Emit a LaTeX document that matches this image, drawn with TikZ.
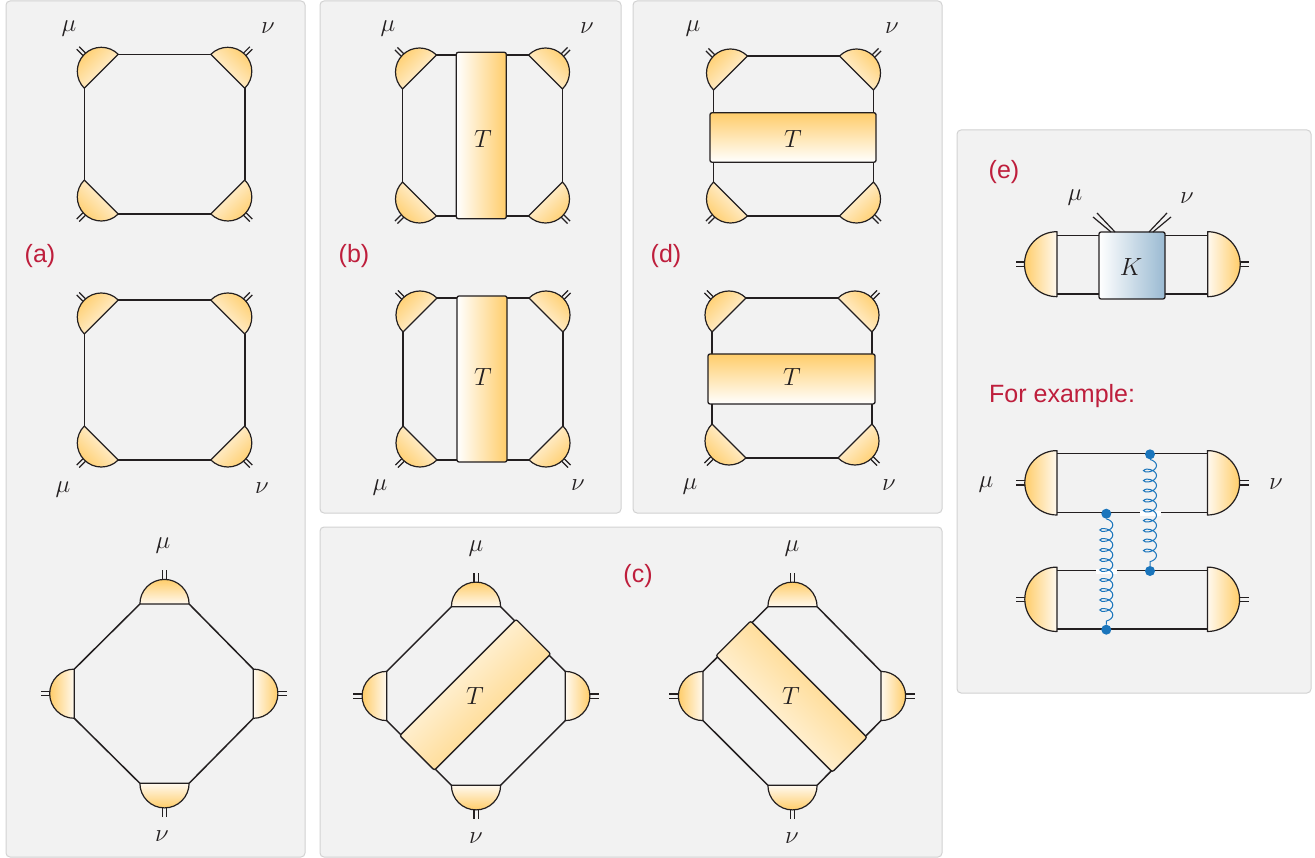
\documentclass[tikz,border=0pt]{standalone}
\usepackage{fontspec}
\setmainfont{Liberation Sans}
\usetikzlibrary{decorations.pathmorphing}
\definecolor{panelfill}{HTML}{F2F2F2}
\definecolor{panelline}{HTML}{D2D2D2}
\definecolor{ink}{HTML}{231F20}
\definecolor{amber}{HTML}{FFCD6A}
\definecolor{cream}{HTML}{FFF9EF}
\definecolor{steel}{HTML}{9ABAD2}
\definecolor{tagred}{HTML}{BE1E3C}
\definecolor{gluon}{HTML}{1A75BC}
\tikzset{
  panel/.style={draw=panelline,fill=panelfill,line width=1pt,rounded corners=4pt},
  wire/.style={draw=ink,line width=1.5pt},
  stub/.style={draw=ink,line width=1.2pt},
  blobedge/.style={draw=ink,line width=1.2pt,line join=round},
  tboxlook/.style={draw=ink,line width=1.3pt,rectangle,rounded corners=2pt,inner sep=0pt,outer sep=0pt},
  mathlabel/.style={inner sep=0pt,text=ink,font=\fontsize{23}{23}\selectfont},
  tag/.style={inner sep=0pt,text=tagred,font=\fontsize{25}{25}\selectfont},
  coilline/.style={draw=gluon,line width=1pt,decorate,decoration={coil,aspect=0.55,segment length=10pt,amplitude=6.5pt}},
  vertexdot/.style={circle,fill=gluon,inner sep=0pt,minimum size=10pt},
  gapmark/.style={fill=white,inner sep=0pt,minimum width=21pt,minimum height=5pt}
}
% name, x, y, rotation, radius, stub gap
\newcommand\blob[6]{%
  \begin{scope}[shift={(#2,#3)},rotate=#4]
    \coordinate (#1-a) at (-#5,0);
    \coordinate (#1-b) at (#5,0);
    \draw[stub] (-#6/2,-#5) -- (-#6/2,-#5-9);
    \draw[stub] (#6/2,-#5) -- (#6/2,-#5-9);
    \path[blobedge,shading=axis,bottom color=cream,top color=amber,shading angle=#4]
      (-#5,0) arc[start angle=180,end angle=0,radius=#5pt] -- cycle;
  \end{scope}}
% prefix, xleft, xright, ytop, ybottom
\newcommand\squarering[5]{%
  \blob{#1tl}{#2}{#4}{45}{24}{3.5}
  \blob{#1tr}{#3}{#4}{-45}{24}{3.5}
  \blob{#1br}{#3}{#5}{-135}{24}{3.5}
  \blob{#1bl}{#2}{#5}{135}{24}{3.5}
  \draw[wire] (#1tl-b) -- (#1tr-a) (#1tr-b) -- (#1br-a) (#1br-b) -- (#1bl-a) (#1bl-b) -- (#1tl-a);}
% prefix, xmid, xleftchord, xrightchord, ytop, ybottom, ymid
\newcommand\diamondring[7]{%
  \blob{#1t}{#2}{#5}{0}{24.6}{4.2}
  \blob{#1r}{#4}{#7}{-90}{24.6}{4.2}
  \blob{#1b}{#2}{#6}{180}{24.6}{4.2}
  \blob{#1l}{#3}{#7}{90}{24.6}{4.2}
  \draw[wire] (#1t-b) -- (#1r-a) (#1r-b) -- (#1b-a) (#1b-b) -- (#1l-a) (#1l-b) -- (#1t-a);}
\begin{document}
\begin{tikzpicture}[x=1pt,y=-1pt]
\useasboundingbox (0,0) rectangle (1315,858);
% panels
\path[panel] (6,1) rectangle (305,857);
\path[panel] (320,1) rectangle (621,513);
\path[panel] (633,1) rectangle (942,513);
\path[panel] (320,527) rectangle (942,857);
\path[panel] (957,130) rectangle (1311,693);
% panel a
\squarering{aa}{101.3}{227.8}{71.3}{197}
\squarering{ab}{101.3}{227.8}{317}{443}
\diamondring{ac}{164.5}{74.3}{253.3}{604}{783.3}{693.7}
\node[mathlabel] (la1) at (69,29) {$\mu$};
\node[mathlabel] (la2) at (268,28) {$\nu$};
\node[mathlabel] (la3) at (63,490) {$\mu$};
\node[mathlabel] (la4) at (262,488) {$\nu$};
\node[mathlabel] (la5) at (163,546) {$\mu$};
\node[mathlabel] (la6) at (162,836) {$\nu$};
\node[tag] (ta) at (40,256) {(a)};
% panel b
\squarering{ba}{419.5}{545.5}{72}{199}
\node[tboxlook,minimum width=50pt,minimum height=166.4pt,bottom color=white,middle color=white,top color=amber,shading angle=-90] (bt1) at (481.3,135.5) {};
\node[mathlabel] (bl1) at (483,139) {$T$};
\squarering{bb}{420}{546}{315}{443}
\node[tboxlook,minimum width=50pt,minimum height=166pt,bottom color=white,middle color=white,top color=amber,shading angle=-90] (bt2) at (482,379) {};
\node[mathlabel] (bl2) at (483,377) {$T$};
\node[mathlabel] (lb1) at (388,29) {$\mu$};
\node[mathlabel] (lb2) at (587,28) {$\nu$};
\node[mathlabel] (lb3) at (380,488) {$\mu$};
\node[mathlabel] (lb4) at (578,485) {$\nu$};
\node[tag] (tb) at (354,256) {(b)};
% panel d
\squarering{da}{730.5}{856.5}{73}{199}
\node[tboxlook,minimum width=166pt,minimum height=49.5pt,bottom color=white,middle color=white,top color=amber] (dt1) at (793,137.5) {};
\node[mathlabel] (dl1) at (793,139) {$T$};
\squarering{db}{729}{855}{315}{441}
\node[tboxlook,minimum width=167pt,minimum height=50pt,bottom color=white,middle color=white,top color=amber] (dt2) at (791.5,379) {};
\node[mathlabel] (dl2) at (792,377) {$T$};
\node[mathlabel] (ld1) at (693,29) {$\mu$};
\node[mathlabel] (ld2) at (892,28) {$\nu$};
\node[mathlabel] (ld3) at (690,487) {$\mu$};
\node[mathlabel] (ld4) at (889,485) {$\nu$};
\node[tag] (td) at (666,256) {(d)};
% panel c
\diamondring{ca}{476}{386.7}{565.3}{606.7}{785.3}{696}
\node[tboxlook,rotate=45,minimum width=164.5pt,minimum height=49pt,bottom color=white,middle color=white,top color=amber,shading angle=-135] (ct1) at (475.2,694.8) {};
\node[mathlabel] (cl1) at (475,696) {$T$};
\diamondring{cb}{792.5}{703}{881}{606.7}{785.3}{696}
\node[tboxlook,rotate=-45,minimum width=164.5pt,minimum height=49pt,bottom color=white,middle color=white,top color=amber,shading angle=-45] (ct2) at (791.5,696.5) {};
\node[mathlabel] (cl2) at (791,696) {$T$};
\node[mathlabel] (lc1) at (476,549) {$\mu$};
\node[mathlabel] (lc2) at (476,838) {$\nu$};
\node[mathlabel] (lc3) at (792,549) {$\mu$};
\node[mathlabel] (lc4) at (792,838) {$\nu$};
\node[tag] (tc) at (638,576) {(c)};
% panel e, upper
\blob{el}{1057}{264.2}{90}{32.5}{4.2}
\blob{er}{1207.7}{264.2}{-90}{32.5}{4.2}
\node[tboxlook,minimum width=66pt,minimum height=67pt,left color=white,right color=steel] (kb) at (1132,265.5) {};
\node[mathlabel] (kl) at (1131,267) {$K$};
\coordinate (m1) at (1093,217);
\coordinate (m2) at (1097,213);
\coordinate (m3) at (1111,232);
\coordinate (m4) at (1115,232);
\coordinate (n1) at (1167,213);
\coordinate (n2) at (1171,217);
\coordinate (n3) at (1149,232);
\coordinate (n4) at (1153,232);
\draw[stub] (m1) -- (m3) (m2) -- (m4) (n1) -- (n3) (n2) -- (n4);
\coordinate (et1) at (1057,235.7);
\coordinate (et2) at (1099,235.7);
\coordinate (et3) at (1165,235.7);
\coordinate (et4) at (1207.7,235.7);
\coordinate (eb1) at (1057,294);
\coordinate (eb2) at (1099,294);
\coordinate (eb3) at (1165,294);
\coordinate (eb4) at (1207.7,294);
\draw[wire] (et1) -- (et2) (et3) -- (et4) (eb1) -- (eb2) (eb3) -- (eb4);
\node[mathlabel] (le1) at (1075,198) {$\mu$};
\node[mathlabel] (le2) at (1187,198) {$\nu$};
\node[tag] (te) at (1004,172) {(e)};
\node[tag,anchor=west] (fe) at (989,396) {For example:};
% panel e, lower
\blob{f1}{1057}{482.8}{90}{32.2}{4.2}
\blob{f2}{1207.4}{482.8}{-90}{32.2}{4.2}
\blob{f3}{1057}{599.3}{90}{32.2}{4.2}
\blob{f4}{1207.4}{599.3}{-90}{32.2}{4.2}
\coordinate (g1) at (1057,453.7);
\coordinate (g2) at (1207.4,453.7);
\coordinate (g3) at (1057,512.7);
\coordinate (g4) at (1207.4,512.7);
\coordinate (g5) at (1057,570.7);
\coordinate (g6) at (1207.4,570.7);
\coordinate (g7) at (1057,629);
\coordinate (g8) at (1207.4,629);
\draw[wire] (g1) -- (g2) (g3) -- (g4) (g5) -- (g6) (g7) -- (g8);
\node[gapmark] (gapa) at (1150,513) {};
\node[gapmark] (gapb) at (1106.3,571) {};
\node[vertexdot] (v1) at (1150,454.3) {};
\node[vertexdot] (v2) at (1150,571) {};
\node[vertexdot] (v3) at (1106.3,513.7) {};
\node[vertexdot] (v4) at (1106.3,629.7) {};
\draw[coilline] (v1) -- (v2);
\draw[coilline] (v3) -- (v4);
\node[mathlabel] (lf1) at (986,485) {$\mu$};
\node[mathlabel] (lf2) at (1276,484) {$\nu$};
\end{tikzpicture}
\end{document}
